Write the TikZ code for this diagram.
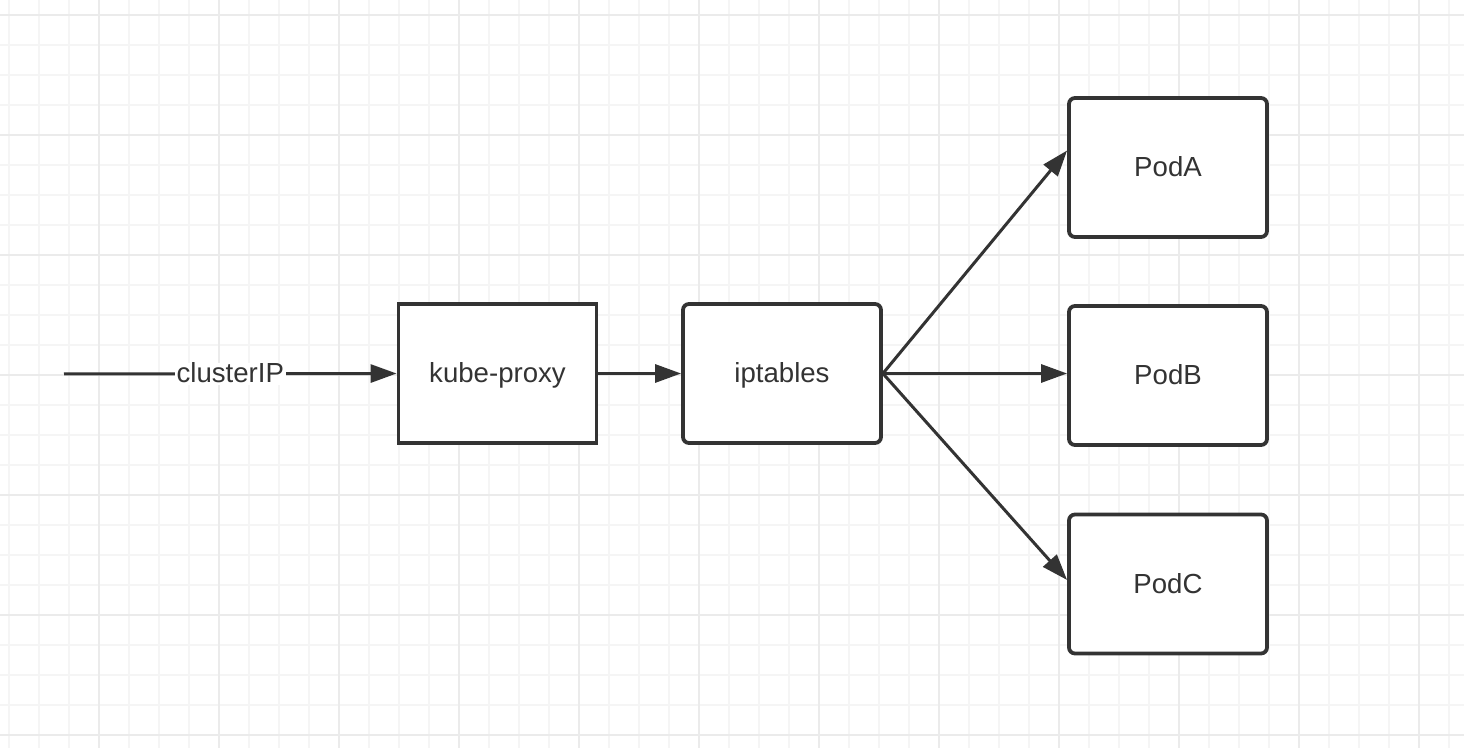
\documentclass[tikz,border=0pt]{standalone}
\usepackage{fontspec}
\setmainfont{Liberation Sans}
\usetikzlibrary{arrows.meta,calc}
\definecolor{ink}{HTML}{333333}
\definecolor{gridminor}{HTML}{F5F5F5}
\definecolor{gridmajor}{HTML}{EBEBEB}
\begin{document}
\begin{tikzpicture}[x=0.5pt,y=-0.5pt,
  lbl/.style={text=ink,font=\fontsize{13.8}{16}\selectfont,text height=9.2pt,text depth=0pt},
  boxsq/.style={draw=ink,line width=1.9pt,fill=white,minimum width=99pt,minimum height=69.5pt,inner sep=0pt,lbl},
  boxrd/.style={boxsq,rounded corners=3pt},
  conn/.style={draw=ink,line width=1.5pt,-{Triangle[length=13pt,width=9pt]}}]
\useasboundingbox (0,0) rectangle (1464,748);
\fill[white] (0,0) rectangle (1464,748);
% grid
\foreach \x in {9,39,...,1464} \draw[gridminor,line width=1pt] (\x,0) -- (\x,748);
\foreach \y in {15,45,...,748} \draw[gridminor,line width=1pt] (0,\y) -- (1464,\y);
\foreach \x in {99,219,...,1464} \draw[gridmajor,line width=1pt] (\x,0) -- (\x,748);
\foreach \y in {15,135,...,748} \draw[gridmajor,line width=1pt] (0,\y) -- (1464,\y);
% nodes
\node[boxsq] (kp) at (497.5,373.5) {kube-proxy};
\node[boxrd] (ipt) at (782,373.5) {iptables};
\node[boxrd] (pa) at (1168,167.5) {PodA};
\node[boxrd] (pb) at (1168,375.5) {PodB};
\node[boxrd] (pc) at (1168,584) {PodC};
\coordinate (start) at (64,374);
% connectors
\draw[conn] (start) -- node[fill=white,inner sep=1pt,lbl] {clusterIP} (kp.west);
\draw[conn] (kp.east) -- (ipt.west);
\draw[conn] (ipt.east) -- ([yshift=8.5pt]pa.west);
\draw[conn] (ipt.east) -- (ipt.east -| pb.west);
\draw[conn] (ipt.east) -- ([yshift=2pt]pc.west);
\end{tikzpicture}
\end{document}
